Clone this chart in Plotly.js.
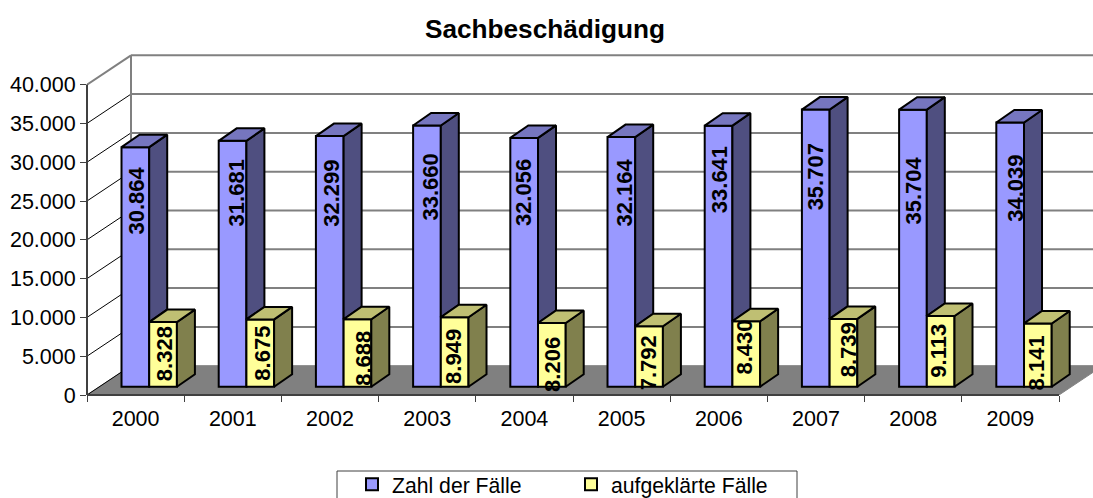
<!DOCTYPE html>
<html><head><meta charset="utf-8">
<script src="https://cdn.plot.ly/plotly-3.0.1.min.js"></script>
<style>html,body{margin:0;padding:0;background:#fff}</style></head>
<body><div id="chart" style="width:1093px;height:498px"></div>
<script>
const years = [2000,2001,2002,2003,2004,2005,2006,2007,2008,2009];
const zahlDerFaelle = [30864,31681,32299,33660,32056,32164,33641,35707,35704,34039];
const aufgeklaerteFaelle = [8328,8675,8688,8949,8206,7792,8430,8739,9113,8141];
const chartTitle = "Sachbeschädigung";
const seriesNames = ["Zahl der Fälle","aufgeklärte Fälle"];
const yTicks = [0,5000,10000,15000,20000,25000,30000,35000,40000];

// label placement relative to each bar: px below the bar top, px right of the bar centre
const blueLabelDrop = [53,52,57,61,55,55,54,67,81,66];
const blueLabelNudge = [1,4,1,4,0,3,1,0,1,5];
const yellowLabelDrop = [32,34,39,39,41,37,26,31,35,39];
const yellowLabelNudge = [1,2,6,-1,0,-1,-2,5,-2,-1];

const wallDx = 44/97.2, wallDy = 29.3/7.76*1000;
const barDx = 18/97.2, barDy = 12.5/7.76*1000;
const base = 1070, barW = 0.285, blueOff = 0.355, yelOff = 0.64;
const xEnd = 2000 + 1006/97.2, yEnd = 345/7.76*1000;
const fmt = v => String(v).replace(/(\d)(\d{3})$/, "$1.$2");

function polys(list){ const xs=[],ys=[]; list.forEach(p=>{p.forEach(q=>{xs.push(q[0]);ys.push(q[1]);}); xs.push(p[0][0]);ys.push(p[0][1]); xs.push(null);ys.push(null);}); return {x:xs,y:ys}; }
function face(list,color){ const p=polys(list); return {type:"scatter",mode:"lines",x:p.x,y:p.y,fill:"toself",fillcolor:color,line:{color:"#000",width:2},showlegend:false,hoverinfo:"skip"}; }

const blueSide = years.map((yr,i)=>{const l=yr+blueOff+barW,t=base+zahlDerFaelle[i],b=base+aufgeklaerteFaelle[i];
  return [[l,t],[l+barDx,t+barDy],[l+barDx,b+barDy],[l,b]];});
const blueTop = years.map((yr,i)=>{const l=yr+blueOff,t=base+zahlDerFaelle[i];
  return [[l,t],[l+barDx,t+barDy],[l+barW+barDx,t+barDy],[l+barW,t]];});
const yelSide = years.map((yr,i)=>{const l=yr+yelOff+barW,t=base+aufgeklaerteFaelle[i];
  return [[l,t],[l+barDx,t+barDy],[l+barDx,base+barDy],[l,base]];});
const yelTop = years.map((yr,i)=>{const l=yr+yelOff,t=base+aufgeklaerteFaelle[i];
  return [[l,t],[l+barDx,t+barDy],[l+barW+barDx,t+barDy],[l+barW,t]];});

const traces = [
 {type:"bar",name:seriesNames[0],x:years,y:zahlDerFaelle,base:base,width:barW,offset:blueOff,marker:{color:"#9999FF",line:{color:"#000",width:2}},hoverinfo:"x+y"},
 {type:"bar",name:seriesNames[1],x:years,y:aufgeklaerteFaelle,base:base,width:barW,offset:yelOff,marker:{color:"#FFFF99",line:{color:"#000",width:2}},hoverinfo:"x+y"},
 face(blueSide,"#4F4F80"), face(blueTop,"#7676BF"), face(yelSide,"#80804D"), face(yelTop,"#BFBF73")
];

const G="#808080";
const shapes=[];
shapes.push({type:"path",layer:"below",xref:"x",yref:"y",fillcolor:G,line:{color:G,width:1},
 path:`M2000,0 L2010,0 L${2010+wallDx},${wallDy} L${2000+wallDx},${wallDy} Z`});
yTicks.forEach(v=>{
 const top=v===40000;
 if(v>0) shapes.push({type:"line",layer:"below",xref:"x",yref:"y",x0:2000+wallDx,x1:xEnd+1,y0:v+wallDy,y1:v+wallDy,line:{color:G,width:2}});
 shapes.push({type:"line",layer:"below",xref:"x",yref:"y",x0:2000,x1:2000+wallDx,y0:v,y1:v+wallDy,line:{color:top?G:"#000",width:top?2:1}});
});
shapes.push({type:"line",layer:"below",xref:"x",yref:"y",x0:2000+wallDx,x1:2000+wallDx,y0:wallDy,y1:40000+wallDy,line:{color:G,width:2}});
shapes.push({type:"line",layer:"above",xref:"paper",yref:"y",x0:0,x1:0,y0:0,y1:40000,line:{color:"#404040",width:2}});
shapes.push({type:"line",layer:"above",xref:"x",yref:"paper",x0:2000,x1:2010,y0:0,y1:0,line:{color:"#404040",width:2}});
// legend frame, running off the bottom of the picture as in the reference
shapes.push({type:"rect",layer:"above",xref:"paper",yref:"paper",x0:(337-87)/1006,x1:(797-87)/1006,y0:(395-471)/345,y1:(395-506)/345,line:{color:"#404040",width:1},fillcolor:"rgba(0,0,0,0)"});

const TF={family:"Liberation Sans, Arial, sans-serif",color:"#000"};
const annotations=[];
years.forEach((yr,i)=>{
 annotations.push({xref:"x",yref:"y",x:yr+blueOff+barW/2,y:base+zahlDerFaelle[i],xshift:blueLabelNudge[i],yshift:-blueLabelDrop[i],text:fmt(zahlDerFaelle[i]),textangle:-90,showarrow:false,font:{...TF,size:22,weight:700}});
 annotations.push({xref:"x",yref:"y",x:yr+yelOff+barW/2,y:base+aufgeklaerteFaelle[i],xshift:yellowLabelNudge[i],yshift:-yellowLabelDrop[i],text:fmt(aufgeklaerteFaelle[i]),textangle:-90,showarrow:false,font:{...TF,size:22,weight:700}});
});

const layout={
 width:1093,height:498,paper_bgcolor:"#fff",plot_bgcolor:"#fff",separators:",.",
 margin:{l:87,r:0,t:50,b:103,autoexpand:false},
 barmode:"overlay",
 title:{text:"<b>"+chartTitle+"</b>",x:545/1093,xanchor:"center",y:1-29/498,yanchor:"middle",font:{...TF,size:26.2}},
 xaxis:{type:"linear",range:[2000,xEnd],tickmode:"array",tickvals:years.map(y=>y+0.5),ticktext:years.map(String),ticklen:0,showgrid:false,zeroline:false,showline:false,
   tickfont:{...TF,size:21.5},ticklabelstandoff:8,
   minor:{tickmode:"array",tickvals:years.concat([2010]),ticks:"outside",ticklen:6,tickcolor:"#404040",tickwidth:1,showgrid:false}},
 yaxis:{range:[0,yEnd],tickmode:"array",tickvals:yTicks,tickformat:",d",ticks:"outside",ticklen:6,tickcolor:"#404040",tickwidth:1,showgrid:false,zeroline:false,showline:false,tickfont:{...TF,size:21.5}},
 legend:{orientation:"h",x:(352-87)/1006,xanchor:"left",y:(395-464)/345,yanchor:"top",borderwidth:0,bgcolor:"rgba(0,0,0,0)",font:{...TF,size:21.2},entrywidth:174,entrywidthmode:"pixels",traceorder:"normal"},
 shapes,annotations,hovermode:false
};
Plotly.newPlot("chart",traces,layout,{displayModeBar:false,staticPlot:true});
</script></body></html>
